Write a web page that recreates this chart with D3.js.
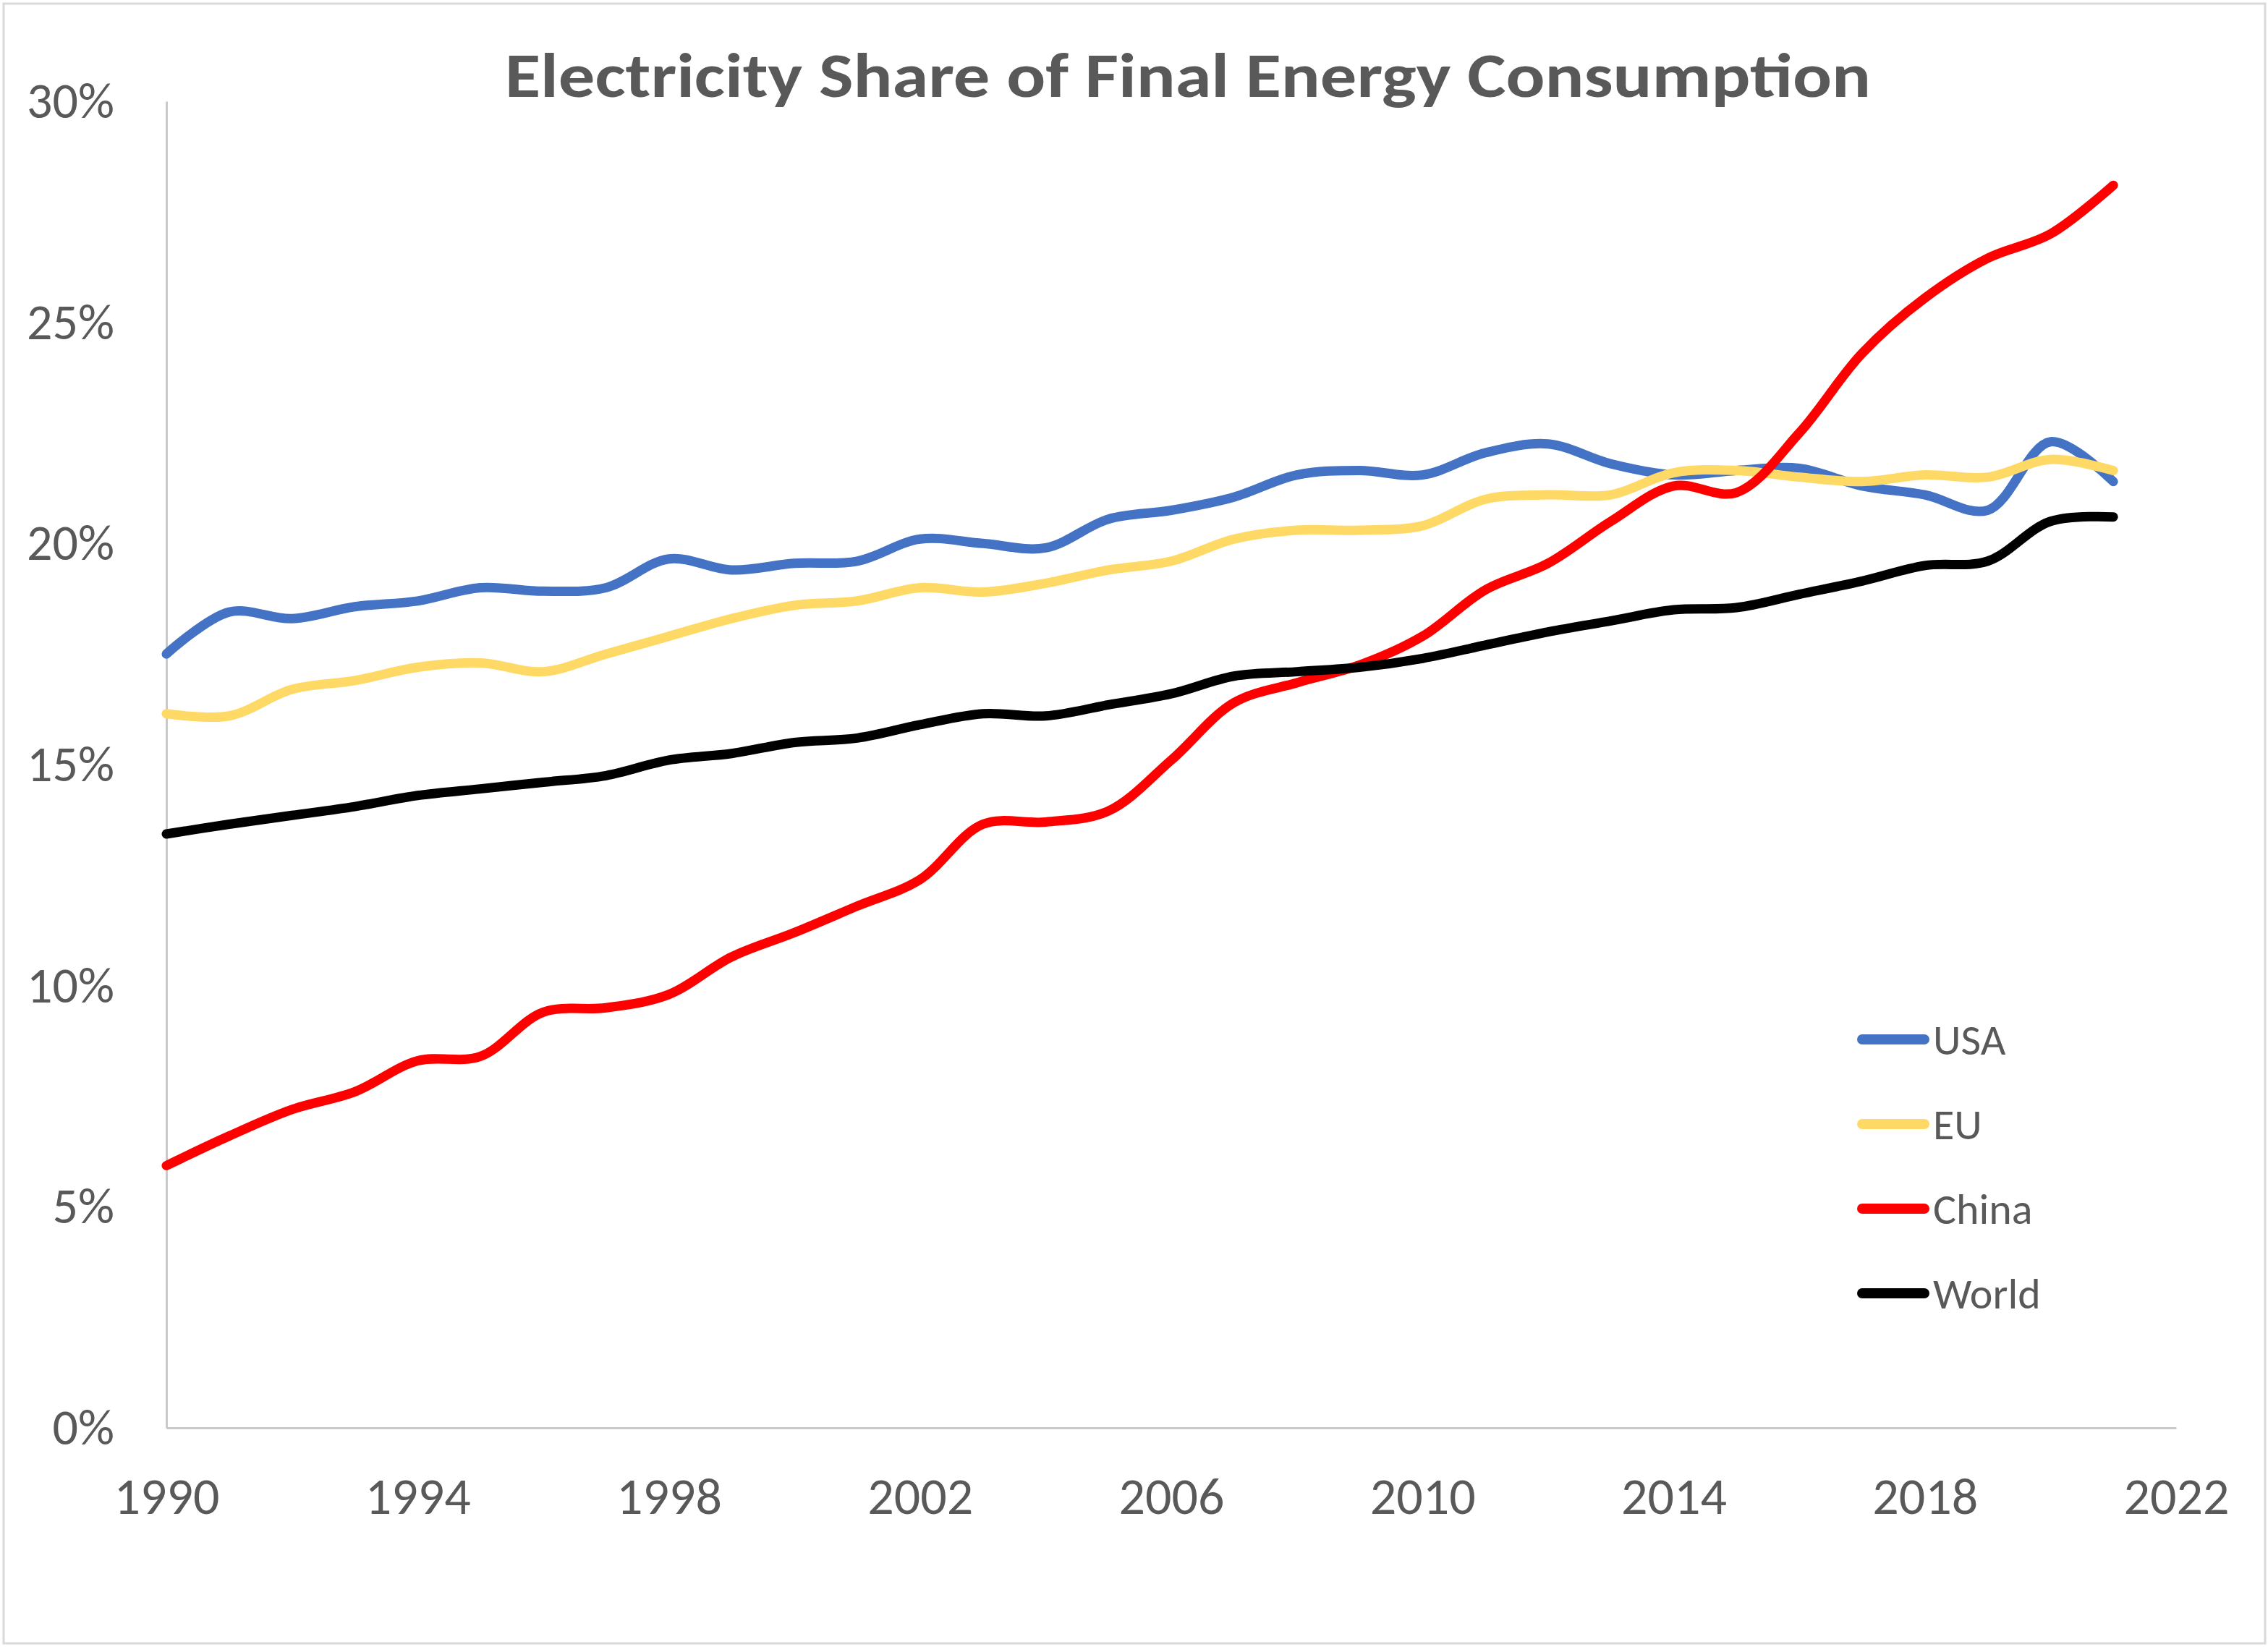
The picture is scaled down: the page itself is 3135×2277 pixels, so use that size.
<!DOCTYPE html>
<html>
<head>
<meta charset="utf-8">
<script src="https://cdn.jsdelivr.net/npm/d3@7"></script>
<style>
  html, body { margin: 0; padding: 0; background: #ffffff; }
  svg { display: block; }
</style>
</head>
<body>
<script>
const years = d3.range(1990, 2022);
const usa   = [17.5,18.45,18.3,18.57,18.7,19.0,18.92,19.0,19.65,19.4,19.55,19.6,20.1,20.0,19.9,20.55,20.75,21.05,21.55,21.65,21.55,22.05,22.25,21.8,21.55,21.65,21.7,21.3,21.1,20.75,22.3,21.4];
const eu    = [16.15,16.1,16.7,16.9,17.2,17.3,17.1,17.5,17.9,18.3,18.6,18.7,19.0,18.9,19.1,19.4,19.6,20.1,20.3,20.3,20.4,21.0,21.1,21.1,21.6,21.65,21.5,21.4,21.55,21.5,21.9,21.65];
const china = [5.93,6.6,7.2,7.6,8.3,8.4,9.4,9.5,9.8,10.65,11.2,11.8,12.4,13.65,13.7,13.95,15.1,16.4,16.85,17.25,17.9,18.95,19.55,20.5,21.3,21.15,22.5,24.3,25.55,26.45,27.0,28.1];
const world = [13.43,13.65,13.85,14.05,14.3,14.45,14.6,14.75,15.1,15.25,15.5,15.6,15.9,16.15,16.1,16.35,16.6,17.0,17.1,17.2,17.4,17.7,18.0,18.25,18.5,18.55,18.85,19.15,19.5,19.6,20.5,20.6];

const seriesNames  = ["USA", "EU", "China", "World"];
const seriesColors = ["#4472C4", "#FFD966", "#FF0000", "#000000"];
const seriesValues = [usa, eu, china, world];

const xTicks = [1990, 1994, 1998, 2002, 2006, 2010, 2014, 2018, 2022];
const yTicks = [0, 5, 10, 15, 20, 25, 30];
const title = "Electricity Share of Final Energy Consumption";

const W = 3135, H = 2277;
const plot = { left: 230, right: 3008, top: 140, bottom: 1974 };
const textColor = "#595959";
const fontFamily = "Carlito, Calibri, Lato, 'Open Sans', sans-serif";

const svg = d3.select("body").append("svg")
  .attr("width", W).attr("height", H);

svg.append("rect").attr("x", 0).attr("y", 0).attr("width", W).attr("height", H).attr("fill", "#ffffff");
svg.append("rect").attr("x", 5).attr("y", 5).attr("width", 3126).attr("height", 2267)
  .attr("fill", "none").attr("stroke", "#D9D9D9").attr("stroke-width", 3);

const x = d3.scaleLinear().domain([1990, 2022]).range([plot.left, plot.right]);
const y = d3.scaleLinear().domain([0, 30]).range([plot.bottom, plot.top]);

// Title
svg.append("text")
  .attr("x", 1642).attr("y", 134)
  .attr("text-anchor", "middle")
  .attr("font-family", fontFamily)
  .attr("font-weight", "bold")
  .attr("font-size", 88)
  .attr("fill", textColor)
  .attr("textLength", 1888)
  .attr("lengthAdjust", "spacingAndGlyphs")
  .text(title);

// Y axis
const yAxis = d3.axisLeft(y).tickValues(yTicks).tickFormat(d => d + "%").tickSize(0).tickPadding(72);
const gy = svg.append("g").attr("transform", `translate(${plot.left},0)`).call(yAxis);
gy.select(".domain").attr("stroke", "#C9C9C9").attr("stroke-width", 3);
gy.selectAll("text").attr("font-family", fontFamily).attr("font-size", 70).attr("fill", textColor);

// X axis
const xAxis = d3.axisBottom(x).tickValues(xTicks).tickFormat(d3.format("d")).tickSize(0).tickPadding(68);
const gx = svg.append("g").attr("transform", `translate(0,${plot.bottom})`).call(xAxis);
gx.select(".domain").attr("stroke", "#C9C9C9").attr("stroke-width", 3);
gx.selectAll("text").attr("font-family", fontFamily).attr("font-size", 72).attr("fill", textColor);

// Lines
const line = d3.line()
  .x((d, i) => x(years[i]))
  .y(d => y(d))
  .curve(d3.curveCatmullRom.alpha(0.5));

seriesValues.forEach((vals, k) => {
  svg.append("path")
    .datum(vals)
    .attr("d", line)
    .attr("fill", "none")
    .attr("stroke", seriesColors[k])
    .attr("stroke-width", 13)
    .attr("stroke-linecap", "round")
    .attr("stroke-linejoin", "round");
});

// Legend
const legend = svg.append("g");
seriesNames.forEach((name, k) => {
  const ly = 1437 + k * 117;
  legend.append("line")
    .attr("x1", 2574).attr("x2", 2660)
    .attr("y1", ly).attr("y2", ly)
    .attr("stroke", seriesColors[k])
    .attr("stroke-width", 14)
    .attr("stroke-linecap", "round");
  legend.append("text")
    .attr("x", 2672).attr("y", ly)
    .attr("dy", "0.35em")
    .attr("font-family", fontFamily)
    .attr("font-size", 60)
    .attr("fill", textColor)
    .text(name);
});
</script>
</body>
</html>
